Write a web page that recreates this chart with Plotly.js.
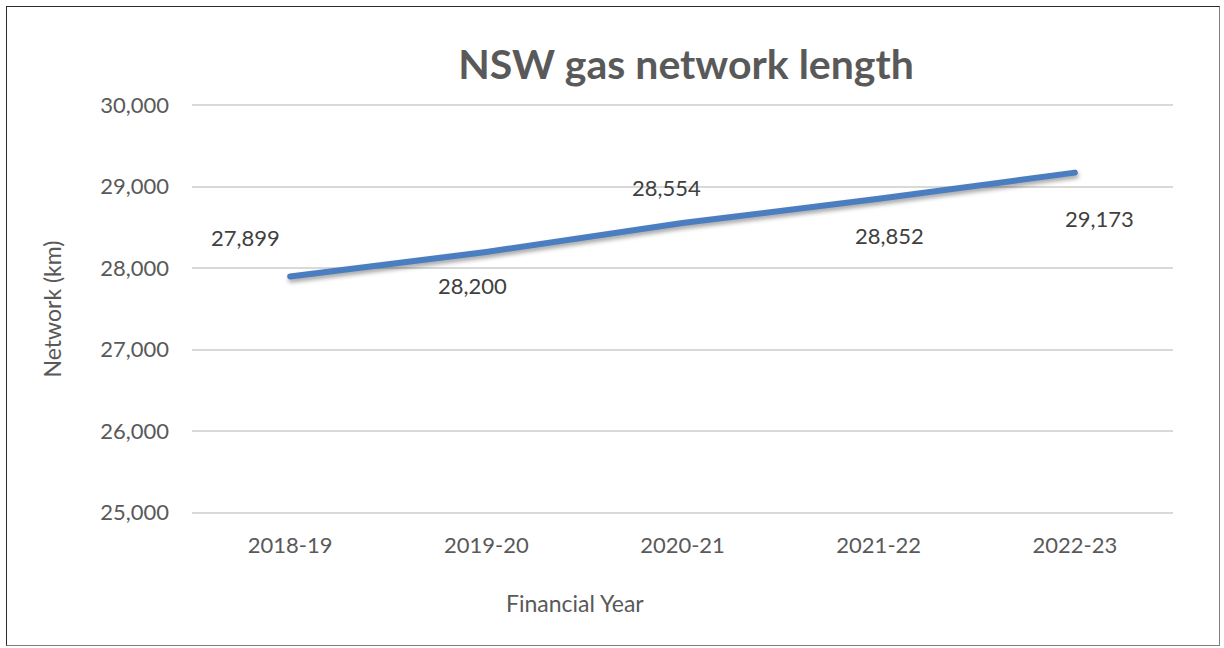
<!DOCTYPE html>
<html>
<head>
<meta charset="utf-8">
<script src="https://cdn.plot.ly/plotly-3.0.1.min.js"></script>
<style>
  html, body { margin: 0; padding: 0; background: #fff; }
  #wrap { position: relative; width: 1224px; height: 648px; }
  #chart { width: 1224px; height: 648px; }
  #frame { position: absolute; left: 6px; top: 6px; width: 1212px; height: 638px;
           border: 1.5px solid #2b2b2b; border-right-color: #7f7f7f; border-bottom-color: #7f7f7f; pointer-events: none; }
  .scatterlayer path.js-line { stroke-linecap: round; stroke-linejoin: round;
           filter: drop-shadow(1px 3px 2px rgba(0,0,0,0.35)); }
</style>
</head>
<body>
<div id="wrap">
  <div id="chart"></div>
  <div id="frame"></div>
</div>
<script>
const years = ["2018-19", "2019-20", "2020-21", "2021-22", "2022-23"];
const networkKm = [27899, 28200, 28554, 28852, 29173];
const yTicks = [25000, 26000, 27000, 28000, 29000, 30000];

// label placement offsets in pixels (style only)
const labelShiftX = [-45, -14, -16, 11, 25];
const labelShiftY = [39, -34, 36, -37, -46];

const FONT = "Lato, 'Open Sans', sans-serif";

const trace = {
  x: years,
  y: networkKm,
  type: "scatter",
  mode: "lines",
  line: { color: "#4A7EC1", width: 6 },
  hoverinfo: "skip"
};

const annotations = years.map((yr, i) => ({
  x: yr, y: networkKm[i], xref: "x", yref: "y",
  text: networkKm[i].toLocaleString("en-US"),
  showarrow: false,
  xshift: labelShiftX[i], yshift: labelShiftY[i],
  font: { family: FONT, size: 22, color: "#404040" }
}));

annotations.push({
  text: "Financial Year", xref: "paper", yref: "paper",
  x: (575 - 192) / 981, y: -(603 - 514) / 410,
  xanchor: "center", yanchor: "middle", showarrow: false,
  font: { family: FONT, size: 23, color: "#595959" }
});

const layout = {
  width: 1224, height: 648,
  margin: { l: 192, r: 51, t: 104, b: 134 },
  paper_bgcolor: "#ffffff", plot_bgcolor: "#ffffff",
  showlegend: false,
  title: {
    text: "<b>NSW gas network length</b>",
    x: 0.5605, xanchor: "center", y: 1 - 65 / 648, yanchor: "middle",
    font: { family: FONT, size: 41, color: "#595959" }
  },
  xaxis: {
    type: "category",
    range: [-0.5, 4.5],
    showgrid: false, zeroline: false, showline: false,
    ticks: "",
    ticklabelstandoff: 16,
    tickfont: { family: FONT, size: 22, color: "#595959" },
    fixedrange: true
  },
  yaxis: {
    range: [24985, 30015],
    tickvals: yTicks,
    tickformat: ",d",
    showgrid: true, gridcolor: "#d9d9d9", gridwidth: 2,
    zeroline: false, showline: false, ticks: "",
    ticklabelstandoff: 22,
    tickfont: { family: FONT, size: 22, color: "#595959" },
    title: { text: "Network (km)", standoff: 32, font: { family: FONT, size: 23, color: "#595959" } },
    fixedrange: true
  },
  annotations: annotations
};

Plotly.newPlot("chart", [trace], layout, { displayModeBar: false, staticPlot: true });
</script>
</body>
</html>
